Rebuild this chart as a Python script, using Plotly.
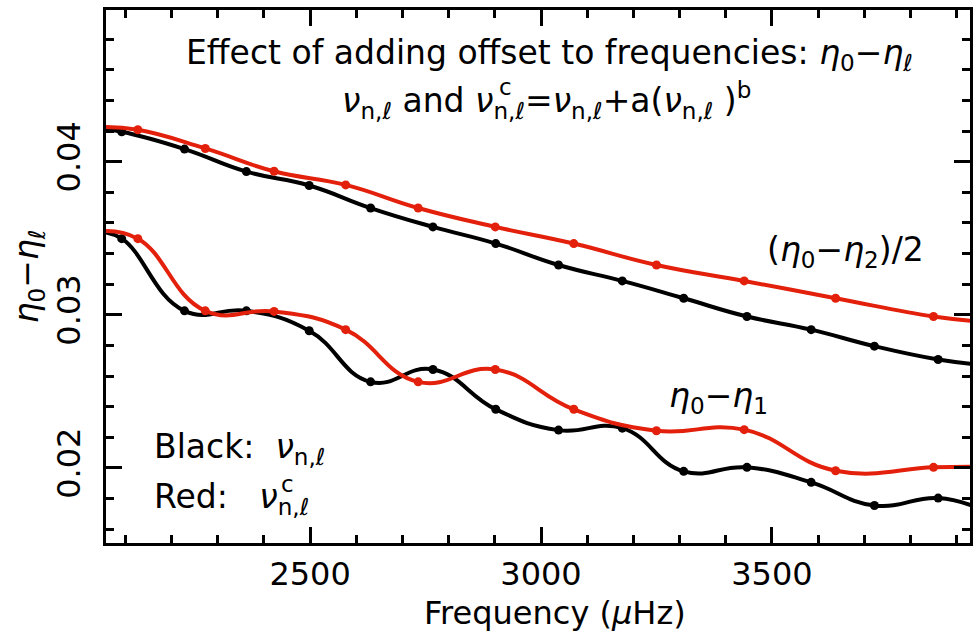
import plotly.graph_objects as go

# ---------------- data ----------------
freq_black = [2092, 2228, 2362, 2498, 2631, 2766, 2902, 3038, 3176, 3309, 3446, 3585, 3722, 3860]
freq_red = [2127, 2273, 2422, 2577, 2734, 2901, 3071, 3250, 3440, 3638, 3850]

eta02_black = [0.04195, 0.04082, 0.03935, 0.03844, 0.03697, 0.03574, 0.03465,
               0.03325, 0.03221, 0.03108, 0.02989, 0.02903, 0.02795, 0.02708]
eta02_red = [0.04208, 0.04086, 0.03937, 0.03848, 0.03697, 0.03574, 0.03465,
             0.03325, 0.03221, 0.03108, 0.02989]

eta01_black = [0.03497, 0.03026, 0.03026, 0.02896, 0.02562, 0.02643, 0.02383,
               0.02247, 0.02260, 0.01978, 0.02004, 0.01906, 0.01755, 0.01803]
eta01_red = [0.03497, 0.03026, 0.03022, 0.02903, 0.02562, 0.02643, 0.02383,
             0.02243, 0.02250, 0.01982, 0.02004]

# curve values where each curve meets the frame edges
edge_freq = [2040, 3950]
edge_eta02_black = [0.04216, 0.02675]
edge_eta02_red = [0.04226, 0.02957]
edge_eta01_black = [0.03541, 0.01734]
edge_eta01_red = [0.03544, 0.02009]

x_range = [2058, 3929]
y_range = [0.0151, 0.0499]

BLACK = "#000000"
RED = "#e3200b"
FONT = "DejaVu Sans"

fig = go.Figure()


def add_curve(fx, fy, ex, ey, color):
    lx = [ex[0]] + fx + [ex[1]]
    ly = [ey[0]] + fy + [ey[1]]
    fig.add_trace(go.Scatter(x=lx, y=ly, mode="lines",
                             line=dict(color=color, width=4, shape="spline", smoothing=1.3),
                             showlegend=False, hoverinfo="skip"))
    fig.add_trace(go.Scatter(x=fx, y=fy, mode="markers",
                             marker=dict(color=color, size=9),
                             showlegend=False))


add_curve(freq_black, eta02_black, edge_freq, edge_eta02_black, BLACK)
add_curve(freq_black, eta01_black, edge_freq, edge_eta01_black, BLACK)
add_curve(freq_red, eta02_red, edge_freq, edge_eta02_red, RED)
add_curve(freq_red, eta01_red, edge_freq, edge_eta01_red, RED)

L, R, T, B = 106, 10, 7, 88
W, H = 980, 631
pw, ph = W - L - R, H - T - B


def px(x):
    return (x - L) / pw


def py(y):
    return (H - B - y) / ph


FS = 33
ann_font = dict(family=FONT, size=FS, color="black")
sup_font = dict(family=FONT, size=round(FS * 0.7), color="black")
annotations = [
    dict(x=px(549), y=py(52), text="Effect of adding offset to frequencies: <i>η</i><sub>0</sub>−<i>η</i><sub>ℓ</sub>"),
    dict(x=px(340), y=py(98), xanchor="left",
         text="<i>ν</i><sub>n,ℓ</sub> and <i>ν</i><sub>n,ℓ</sub>=<i>ν</i><sub>n,ℓ</sub>+a(<i>ν</i><sub>n,ℓ</sub> )<sup>b</sup>"),
    dict(x=px(340 + 157), y=py(84), text="c", font=sup_font, xanchor="left"),
    dict(x=px(845), y=py(250), text="(<i>η</i><sub>0</sub>−<i>η</i><sub>2</sub>)/2"),
    dict(x=px(718), y=py(397), text="<i>η</i><sub>0</sub>−<i>η</i><sub>1</sub>"),
    dict(x=px(152), y=py(448), text="Black:  <i>ν</i><sub>n,ℓ</sub>", xanchor="left"),
    dict(x=px(152), y=py(498), text="Red:   <i>ν</i><sub>n,ℓ</sub>", xanchor="left"),
    dict(x=px(152 + 127), y=py(484), text="c", font=sup_font, xanchor="left"),
    dict(x=px(555), y=py(613), text="Frequency (<i>μ</i>Hz)", font=dict(family=FONT, size=32, color="black")),
]
for a in annotations:
    a.setdefault("xanchor", "center")
    a.setdefault("font", ann_font)
    a.update(xref="paper", yref="paper", yanchor="middle", showarrow=False)

axis_common = dict(
    showline=True, linecolor="black", linewidth=3, mirror="ticks",
    ticks="inside", ticklen=16, tickwidth=2.5, tickcolor="black",
    showgrid=False, zeroline=False,
    tickfont=dict(family=FONT, size=32, color="black"),
)

fig.update_layout(
    width=W, height=H,
    margin=dict(l=L, r=R, t=T, b=B),
    paper_bgcolor="white", plot_bgcolor="white",
    annotations=annotations,
    xaxis=dict(range=x_range, dtick=500, tick0=0, ticklabelstandoff=1,
               minor=dict(dtick=100, ticklen=8, tickwidth=2.5, tickcolor="black", ticks="inside"),
               **axis_common),
    yaxis=dict(range=y_range, dtick=0.01, tick0=0, tickangle=-90, tickformat=".2f",
               ticklabelstandoff=10,
               minor=dict(dtick=0.002, ticklen=8, tickwidth=2.5, tickcolor="black", ticks="inside"),
               title=dict(text="<i>η</i><sub>0</sub>−<i>η</i><sub>ℓ</sub>", font=dict(family=FONT, size=33, color="black"), standoff=2),
               **axis_common),
)

fig.write_html("out.html")
